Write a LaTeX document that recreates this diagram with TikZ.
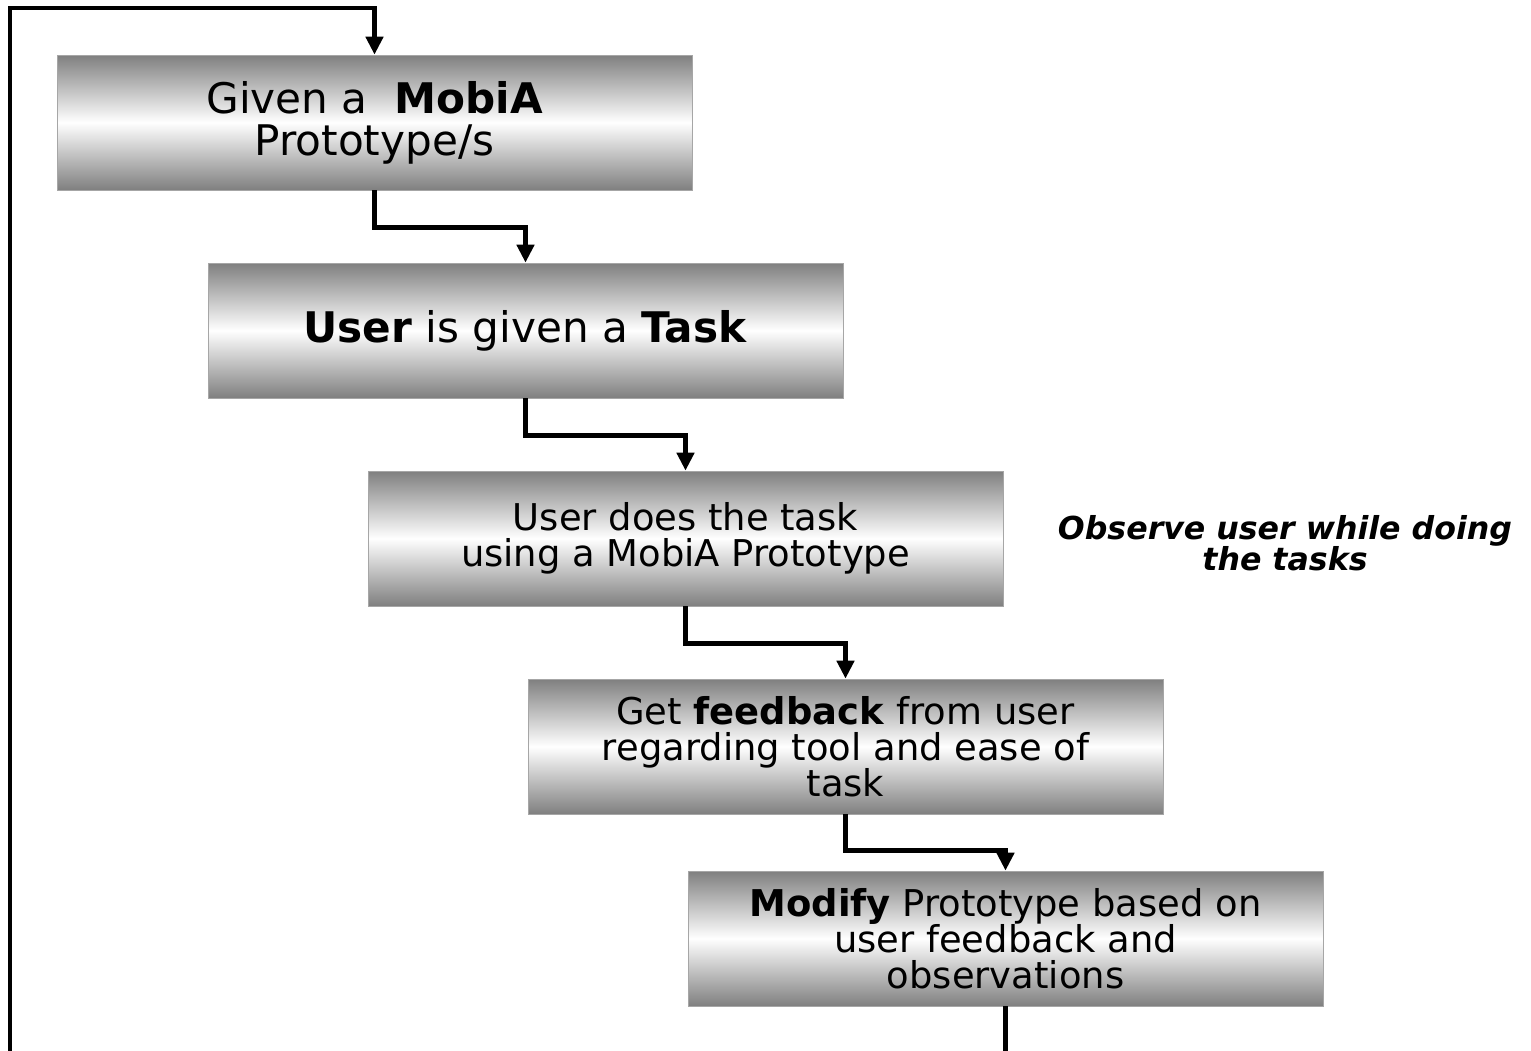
\documentclass[tikz,border=0pt]{standalone}
\usepackage{fontspec}
\setmainfont{DejaVu Sans}
\usetikzlibrary{arrows.meta}

\tikzset{
  stepbox/.style={rectangle, draw=gray!70, line width=0.4pt, top color=gray, bottom color=gray, middle color=white,
    minimum width=12.7cm, minimum height=2.7cm, inner sep=0pt, align=center},
  bigtext/.style={font=\fontsize{24}{24}\selectfont},
  smalltext/.style={font=\fontsize{21}{20.5}\selectfont},
  flow/.style={line width=2.6pt, -{Triangle[length=0.36cm, width=0.34cm]}},
  loopline/.style={line width=2.6pt},
}

\begin{document}
\begin{tikzpicture}[x=0.02cm, y=-0.02cm]
    \useasboundingbox (0,0) rectangle (1531,1051);

    % --- 1. Pasos del proceso ---
    \node[stepbox, bigtext] (given) at (374.5,122.5) {Given a \ \textbf{MobiA}\\Prototype/s};
    \node[stepbox, bigtext] (task) at (525.5,330.5) {\textbf{User} is given a \textbf{Task}};
    \node[stepbox, smalltext] (does) at (685.5,538.5) {User does the task\\using a MobiA Prototype};
    \node[stepbox, smalltext] (feedback) at (845.5,746.5) {Get \textbf{feedback} from user\\regarding tool and ease of\\task};
    \node[stepbox, smalltext] (modify) at (1005.5,938.5) {\textbf{Modify} Prototype based on\\user feedback and\\observations};

    \node[align=center, font=\fontsize{18}{17.6}\selectfont\bfseries\itshape] (observe) at (1285,543)
        {Observe user while doing\\the tasks};

    % --- 2. Conectores escalonados ---
    \draw[flow] (given.south) -- ++(0,37) -| (task.north);
    \draw[flow] (task.south) -- ++(0,37) -| (does.north);
    \draw[flow] (does.south) -- ++(0,37) -| (feedback.north);
    \draw[flow] (feedback.south) -- ++(0,36) -| (modify.north);

    % --- 3. Lazo de retorno ---
    \path (modify.south) ++(0,60) coordinate (modend);
    \coordinate (loopbot) at (10,1060);
    \coordinate (looptop) at (10,8);
    \draw[loopline] (modify.south) -- (modend);
    \draw[flow] (loopbot) -- (looptop) -| (given.north);
\end{tikzpicture}
\end{document}
